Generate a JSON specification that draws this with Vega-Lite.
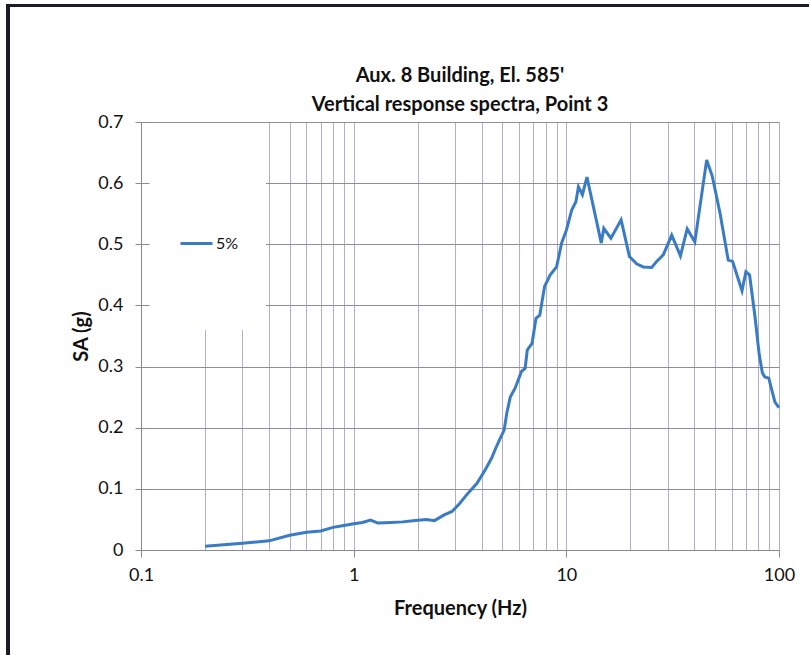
{
  "$schema": "https://vega.github.io/schema/vega-lite/v6.json",
  "width": 638,
  "height": 428,
  "autosize": {"type": "none"},
  "padding": {"left": 141, "top": 122, "right": 30, "bottom": 105},
  "background": "white",
  "title": {
    "text": ["Aux. 8 Building, El. 585'", "Vertical response spectra, Point 3"],
    "frame": "group",
    "font": "Lato",
    "fontSize": 20,
    "fontWeight": "bold",
    "color": "#111111",
    "anchor": "middle",
    "baseline": "bottom",
    "lineHeight": 29,
    "offset": -131
  },
  "config": {"view": {"stroke": null}, "font": "Lato"},
  "datasets": {
    "spectrum": [
      {"f": 0.2, "sa": 0.006, "series": "5%"},
      {"f": 0.3, "sa": 0.011, "series": "5%"},
      {"f": 0.4, "sa": 0.015, "series": "5%"},
      {"f": 0.5, "sa": 0.024, "series": "5%"},
      {"f": 0.6, "sa": 0.029, "series": "5%"},
      {"f": 0.7, "sa": 0.031, "series": "5%"},
      {"f": 0.8, "sa": 0.037, "series": "5%"},
      {"f": 0.9, "sa": 0.040, "series": "5%"},
      {"f": 1.0, "sa": 0.043, "series": "5%"},
      {"f": 1.1, "sa": 0.045, "series": "5%"},
      {"f": 1.2, "sa": 0.049, "series": "5%"},
      {"f": 1.3, "sa": 0.044, "series": "5%"},
      {"f": 1.5, "sa": 0.045, "series": "5%"},
      {"f": 1.7, "sa": 0.046, "series": "5%"},
      {"f": 1.9, "sa": 0.048, "series": "5%"},
      {"f": 2.2, "sa": 0.050, "series": "5%"},
      {"f": 2.4, "sa": 0.048, "series": "5%"},
      {"f": 2.65, "sa": 0.057, "series": "5%"},
      {"f": 2.9, "sa": 0.063, "series": "5%"},
      {"f": 3.15, "sa": 0.076, "series": "5%"},
      {"f": 3.45, "sa": 0.093, "series": "5%"},
      {"f": 3.8, "sa": 0.109, "series": "5%"},
      {"f": 4.15, "sa": 0.131, "series": "5%"},
      {"f": 4.45, "sa": 0.150, "series": "5%"},
      {"f": 4.65, "sa": 0.166, "series": "5%"},
      {"f": 4.85, "sa": 0.180, "series": "5%"},
      {"f": 5.1, "sa": 0.196, "series": "5%"},
      {"f": 5.25, "sa": 0.224, "series": "5%"},
      {"f": 5.45, "sa": 0.250, "series": "5%"},
      {"f": 5.75, "sa": 0.265, "series": "5%"},
      {"f": 6.15, "sa": 0.292, "series": "5%"},
      {"f": 6.4, "sa": 0.297, "series": "5%"},
      {"f": 6.55, "sa": 0.327, "series": "5%"},
      {"f": 6.9, "sa": 0.338, "series": "5%"},
      {"f": 7.2, "sa": 0.379, "series": "5%"},
      {"f": 7.5, "sa": 0.384, "series": "5%"},
      {"f": 7.9, "sa": 0.431, "series": "5%"},
      {"f": 8.4, "sa": 0.450, "series": "5%"},
      {"f": 9.0, "sa": 0.463, "series": "5%"},
      {"f": 9.5, "sa": 0.502, "series": "5%"},
      {"f": 10.0, "sa": 0.523, "series": "5%"},
      {"f": 10.6, "sa": 0.556, "series": "5%"},
      {"f": 11.1, "sa": 0.570, "series": "5%"},
      {"f": 11.4, "sa": 0.594, "series": "5%"},
      {"f": 11.9, "sa": 0.581, "series": "5%"},
      {"f": 12.5, "sa": 0.610, "series": "5%"},
      {"f": 14.6, "sa": 0.502, "series": "5%"},
      {"f": 15.0, "sa": 0.526, "series": "5%"},
      {"f": 16.2, "sa": 0.510, "series": "5%"},
      {"f": 18.1, "sa": 0.540, "series": "5%"},
      {"f": 19.8, "sa": 0.480, "series": "5%"},
      {"f": 21.4, "sa": 0.468, "series": "5%"},
      {"f": 23.0, "sa": 0.463, "series": "5%"},
      {"f": 25.2, "sa": 0.462, "series": "5%"},
      {"f": 26.6, "sa": 0.472, "series": "5%"},
      {"f": 28.6, "sa": 0.483, "series": "5%"},
      {"f": 31.3, "sa": 0.515, "series": "5%"},
      {"f": 34.4, "sa": 0.481, "series": "5%"},
      {"f": 37.0, "sa": 0.525, "series": "5%"},
      {"f": 40.2, "sa": 0.504, "series": "5%"},
      {"f": 45.7, "sa": 0.638, "series": "5%"},
      {"f": 48.5, "sa": 0.612, "series": "5%"},
      {"f": 52.8, "sa": 0.551, "series": "5%"},
      {"f": 57.7, "sa": 0.474, "series": "5%"},
      {"f": 60.5, "sa": 0.472, "series": "5%"},
      {"f": 67.0, "sa": 0.424, "series": "5%"},
      {"f": 69.9, "sa": 0.455, "series": "5%"},
      {"f": 72.7, "sa": 0.450, "series": "5%"},
      {"f": 77.1, "sa": 0.382, "series": "5%"},
      {"f": 80.7, "sa": 0.320, "series": "5%"},
      {"f": 83.5, "sa": 0.290, "series": "5%"},
      {"f": 85.7, "sa": 0.283, "series": "5%"},
      {"f": 89.5, "sa": 0.281, "series": "5%"},
      {"f": 95.7, "sa": 0.242, "series": "5%"},
      {"f": 100, "sa": 0.233, "series": "5%"}
    ]
  },
  "data": {"name": "spectrum"},
  "resolve": {"axis": {"y": "independent"}},
  "layer": [
    {
      "description": "Page frame around the whole figure",
      "mark": {"type": "rect", "filled": false, "stroke": "#1c1c28", "strokeWidth": 2.5, "clip": false},
      "encoding": {
        "x": {"datum": 0.0237, "type": "quantitative"},
        "x2": {"datum": 160},
        "y": {"datum": -0.3, "type": "quantitative", "axis": null},
        "y2": {"datum": 0.891}
      }
    },
    {
      "description": "White legend box that hides the gridlines behind the legend; its axis draws the inward half of the cross ticks",
      "mark": {"type": "rect", "fill": "white", "stroke": null},
      "encoding": {
        "x": {"datum": 0.1012, "type": "quantitative"},
        "x2": {"datum": 0.385},
        "y": {
          "datum": 0.36,
          "type": "quantitative",
          "axis": {
            "orient": "left",
            "title": null,
            "values": [0, 0.1, 0.2, 0.3, 0.4, 0.5, 0.6, 0.7],
            "labels": false,
            "domain": false,
            "grid": false,
            "tickSize": -8,
            "tickColor": "#8a8a96",
            "zindex": 1
          }
        },
        "y2": {"datum": 0.698}
      }
    },
    {
      "mark": {"type": "line", "strokeWidth": 3, "interpolate": "linear"},
      "encoding": {
        "x": {
          "field": "f",
          "type": "quantitative",
          "scale": {"type": "log", "domain": [0.1, 100], "nice": false},
          "axis": {
            "title": "Frequency (Hz)",
            "titleFont": "Lato",
            "titleFontSize": 20,
            "titleFontWeight": "bold",
            "titleColor": "#111111",
            "titlePadding": 14,
            "values": [0.1, 0.2, 0.3, 0.4, 0.5, 0.6, 0.7, 0.8, 0.9, 1, 2, 3, 4, 5, 6, 7, 8, 9, 10, 20, 30, 40, 50, 60, 70, 80, 90, 100],
            "format": "~g",
            "labelExpr": "abs(log(datum.value)/LN10 - round(log(datum.value)/LN10)) < 0.001 ? datum.label : ''",
            "labelFont": "Lato",
            "labelFontSize": 18,
            "labelColor": "#111111",
            "labelPadding": 9,
            "labelFlush": false,
            "labelOverlap": false,
            "tickSize": 7,
            "tickColor": "#8a8a96",
            "tickOpacity": {"condition": {"test": "abs(log(datum.value)/LN10 - round(log(datum.value)/LN10)) < 0.001", "value": 1}, "value": 0},
            "domainColor": "#8a8a96",
            "grid": true,
            "gridColor": "#b3aec8",
            "gridWidth": 1
          }
        },
        "y": {
          "field": "sa",
          "type": "quantitative",
          "scale": {"domain": [0, 0.7], "nice": false, "zero": true},
          "axis": {
            "orient": "left",
            "title": "SA (g)",
            "titleFont": "Lato",
            "titleFontSize": 20,
            "titleFontWeight": "bold",
            "titleColor": "#111111",
            "titlePadding": 6,
            "values": [0, 0.1, 0.2, 0.3, 0.4, 0.5, 0.6, 0.7],
            "format": "~g",
            "labelFont": "Lato",
            "labelFontSize": 18,
            "labelColor": "#111111",
            "labelPadding": 12,
            "tickSize": 6,
            "tickColor": "#8a8a96",
            "domainColor": "#8a8a96",
            "grid": true,
            "gridColor": "#8f8d9a",
            "gridWidth": 1
          }
        },
        "color": {
          "field": "series",
          "type": "nominal",
          "scale": {"range": ["#3a7bc6"]},
          "legend": {
            "title": null,
            "orient": "none",
            "legendX": 38,
            "legendY": 104,
            "padding": 0,
            "symbolType": "stroke",
            "symbolSize": 1024,
            "symbolStrokeWidth": 3,
            "labelFont": "Lato",
            "labelFontSize": 16,
            "labelColor": "#111111",
            "labelOffset": 2
          }
        }
      }
    }
  ]
}
